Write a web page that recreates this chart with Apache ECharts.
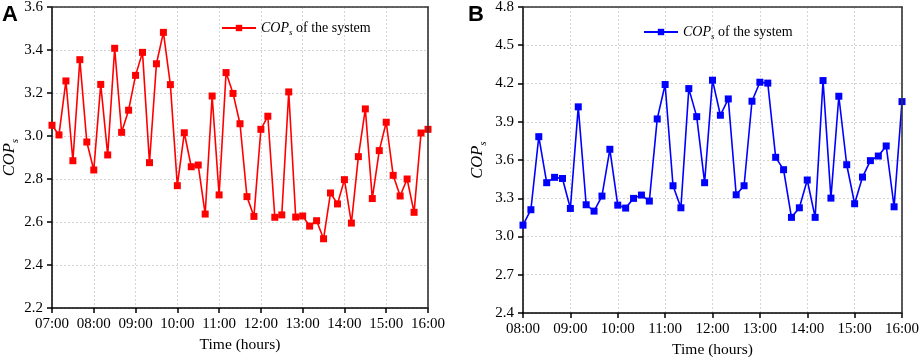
<!DOCTYPE html>
<html><head><meta charset="utf-8">
<script src="https://cdn.jsdelivr.net/npm/echarts@6/dist/echarts.min.js"></script>
<style>html,body{margin:0;padding:0;background:#fff}#c{width:920px;height:357px}</style>
</head><body><div id="c"></div>
<script>
// Panel A: 07:00-16:00, 10-min steps
const valuesA = [3.05,3.005,3.256,2.885,3.355,2.972,2.842,3.24,2.912,3.408,3.017,3.12,3.282,3.389,2.876,3.336,3.482,3.239,2.769,3.015,2.857,2.865,2.637,3.186,2.726,3.295,3.198,3.057,2.718,2.626,3.031,3.092,2.622,2.633,3.205,2.623,2.628,2.581,2.606,2.522,2.735,2.684,2.797,2.595,2.904,3.126,2.709,2.932,3.064,2.817,2.721,2.80,2.645,3.014,3.031];
// Panel B: 08:00-16:00, 10-min steps
const valuesB = [3.089,3.21,3.783,3.422,3.464,3.455,3.22,4.017,3.249,3.199,3.317,3.684,3.246,3.223,3.299,3.325,3.278,3.922,4.192,3.398,3.225,4.16,3.94,3.422,4.226,3.951,4.079,3.327,3.398,4.061,4.21,4.203,3.621,3.524,3.15,3.225,3.443,3.15,4.223,3.301,4.1,3.563,3.257,3.466,3.595,3.631,3.71,3.233,4.058];
const startHourA = 7, startHourB = 8;
const yTicksA = [2.2,2.4,2.6,2.8,3.0,3.2,3.4,3.6];
const yTicksB = [2.4,2.7,3.0,3.3,3.6,3.9,4.2,4.5,4.8];
const seriesName = 'COPs of the system';

function timeCats(startHour, n){
  const out=[];
  for(let i=0;i<n;i++){const m=startHour*60+i*10;const h=Math.floor(m/60), mm=m%60;
    out.push(String(h).padStart(2,'0')+':'+String(mm).padStart(2,'0'));}
  return out;
}
const catsA = timeCats(startHourA, valuesA.length);
const catsB = timeCats(startHourB, valuesB.length);

const serif = 'Liberation Serif';
const legRich = {
  i:{fontFamily:serif,fontStyle:'italic',fontSize:14,color:'#000',lineHeight:18,verticalAlign:'middle'},
  s:{fontFamily:serif,fontStyle:'italic',fontSize:9,color:'#000',lineHeight:18,verticalAlign:'bottom'},
  n:{fontFamily:serif,fontSize:14,color:'#000',lineHeight:18,verticalAlign:'middle'}
};
const nameRich = {
  i:{fontFamily:serif,fontStyle:'italic',fontSize:16.5,color:'#000',lineHeight:22,verticalAlign:'middle'},
  s:{fontFamily:serif,fontStyle:'italic',fontSize:11,color:'#000',lineHeight:22,verticalAlign:'bottom'}
};
const copName = '{i|COP}{s|s}';

function xAxis(cats, gridIndex, gap){
  return {type:'category',gridIndex,data:cats,boundaryGap:false,
    axisLine:{lineStyle:{color:'#000',width:1.5}},
    axisTick:{interval:5,inside:false,length:5,lineStyle:{color:'#000',width:1.5}},
    axisLabel:{interval:5,color:'#000',fontFamily:serif,fontSize:15,margin:9,showMaxLabel:true},
    splitLine:{show:true,interval:5,lineStyle:{color:'#d4d4d4',type:[2,2],width:1}},
    name:'Time (hours)',nameLocation:'middle',nameGap:gap,
    nameTextStyle:{color:'#000',fontFamily:serif,fontSize:15.5}};
}
function xTop(cats, gridIndex){
  return {type:'category',gridIndex,data:cats,boundaryGap:false,position:'top',z:10,
    axisLine:{lineStyle:{color:'#333',width:1.6}},axisTick:{show:false},axisLabel:{show:false},splitLine:{show:false}};
}
function yAxis(ticks, gridIndex, gap){
  const step = +(ticks[1]-ticks[0]).toFixed(2);
  return {type:'value',gridIndex,min:ticks[0],max:ticks[ticks.length-1],interval:step,
    axisLine:{show:true,lineStyle:{color:'#000',width:1.5}},
    axisTick:{show:true,length:5,lineStyle:{color:'#000',width:1.5}},
    axisLabel:{color:'#000',fontFamily:serif,fontSize:15,margin:9,formatter:v=>v.toFixed(1)},
    splitLine:{show:true,lineStyle:{color:'#d4d4d4',type:[2,2],width:1}},
    name:copName,nameLocation:'middle',nameGap:gap,nameRotate:90,
    nameTextStyle:{rich:nameRich}};
}
function yRight(ticks, gridIndex){
  return {type:'value',gridIndex,min:ticks[0],max:ticks[ticks.length-1],position:'right',z:10,
    axisLine:{show:true,lineStyle:{color:'#333',width:1.6}},axisTick:{show:false},axisLabel:{show:false},splitLine:{show:false}};
}
const chart = echarts.init(document.getElementById('c'),null,{renderer:'canvas'});
chart.setOption({
  animation:false,
  backgroundColor:'#fff',
  grid:[
    {left:52,top:7,right:492,bottom:49,containLabel:false,outerBoundsMode:'none'},
    {left:523,top:7,right:18,bottom:44,containLabel:false,outerBoundsMode:'none'}
  ],
  xAxis:[xAxis(catsA,0,27), xAxis(catsB,1,26), xTop(catsA,0), xTop(catsB,1)],
  yAxis:[yAxis(yTicksA,0,29), yAxis(yTicksB,1,34), yRight(yTicksA,0), yRight(yTicksB,1)],
  legend:[
    {data:[seriesName],left:221,top:21,padding:0,itemWidth:34,itemHeight:8,itemGap:4,
      formatter:()=>'{i|COP}{s|s}{n| of the system}',textStyle:{rich:legRich}},
    {data:[seriesName+' '],left:643,top:25,padding:0,itemWidth:34,itemHeight:8,itemGap:4,
      formatter:()=>'{i|COP}{s|s}{n| of the system}',textStyle:{rich:legRich}}
  ],
  graphic:[
    {type:'text',left:2,top:4,style:{text:'A',font:'bold 22px "Liberation Sans"',fill:'#000'}},
    {type:'text',left:468,top:4,style:{text:'B',font:'bold 22px "Liberation Sans"',fill:'#000'}}
  ],
  series:[
    {name:seriesName,type:'line',xAxisIndex:0,yAxisIndex:0,data:valuesA,symbol:'rect',symbolSize:7,
      itemStyle:{color:'#ff0000'},lineStyle:{color:'#ff0000',width:1.6},showAllSymbol:true,z:5},
    {name:seriesName+' ',type:'line',xAxisIndex:1,yAxisIndex:1,data:valuesB,symbol:'rect',symbolSize:7,
      itemStyle:{color:'#0000ff'},lineStyle:{color:'#0000ff',width:1.6},showAllSymbol:true,z:5}
  ]
});
</script></body></html>
